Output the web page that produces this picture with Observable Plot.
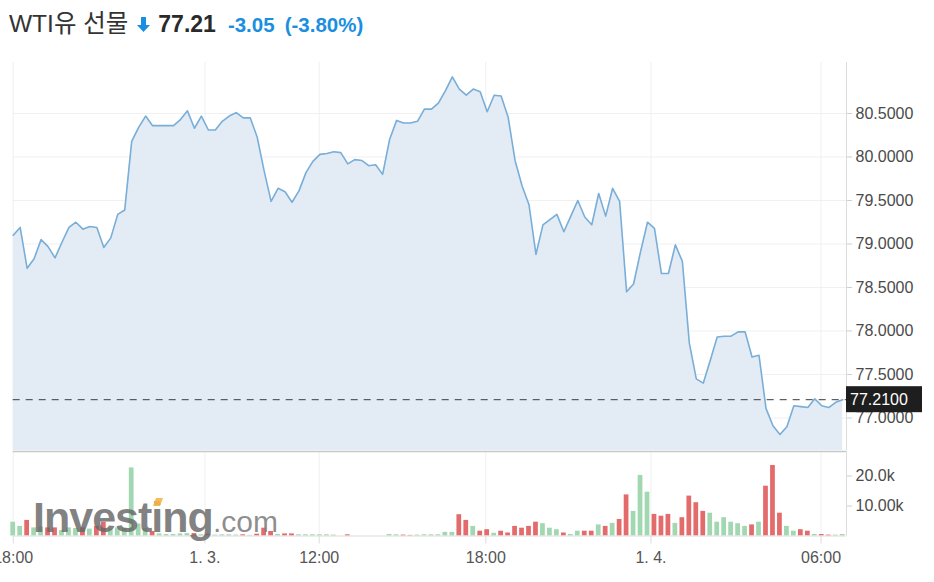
<!DOCTYPE html>
<html><head><meta charset="utf-8">
<script src="https://cdn.jsdelivr.net/npm/d3@7"></script>
<script src="https://cdn.jsdelivr.net/npm/@observablehq/plot@0.6"></script>
<style>
body{margin:0;background:#fff;font-family:"Liberation Sans",Arial,"Noto Sans CJK KR",sans-serif;}
#wrap{position:relative;width:934px;height:582px;overflow:hidden;}
#hdr{height:50px;display:flex;align-items:baseline;padding-left:9px;box-sizing:border-box;padding-top:4px;white-space:nowrap;}
.name{font-size:24.5px;color:#333;}
.arrow{margin:0 8px 0 9px;}
.last{font-size:23px;font-weight:bold;color:#2a2a2a;}
.chg{font-size:20.5px;font-weight:bold;color:#1a8fe0;margin-left:12px;}
.pct{font-size:20.5px;font-weight:bold;color:#1a8fe0;margin-left:10px;}
#price svg,#vol svg{display:block;}
#wm{position:absolute;left:0;top:0;pointer-events:none;}
</style></head>
<body>
<div id="wrap">
  <div id="hdr">
    <span class="name">WTI유 선물</span>
    <svg class="arrow" width="13" height="15" viewBox="0 0 13 15"><path d="M4 0h5v8h4l-6.5 7L0 8h4z" fill="#1a8fe0"/></svg>
    <span class="last">77.21</span>
    <span class="chg">-3.05</span>
    <span class="pct">(-3.80%)</span>
  </div>
  <div id="price"></div>
  <div id="vol"></div>
  <svg id="wm" width="934" height="582">
    <text x="33" y="532" font-family="Liberation Sans, Arial, sans-serif" font-size="43" font-weight="bold" letter-spacing="-1" fill="#666" fill-opacity="0.82">Investing</text>
    <polygon points="153,506 156,498 163,498 160,506" fill="#f6b547" fill-opacity="0.9"/>
    <text x="213" y="532" font-family="Liberation Sans, Arial, sans-serif" font-size="30" fill="#7a7a7a" fill-opacity="0.85">.com</text>
  </svg>
</div>
<script>
// ---- data ----
const price = [
79.10, 79.19, 78.72, 78.83, 79.05, 78.97, 78.84, 79.02, 79.19, 79.25,
79.17, 79.20, 79.19, 78.96, 79.07, 79.34, 79.39, 80.18, 80.34, 80.47,
80.36, 80.36, 80.36, 80.36, 80.43, 80.53, 80.33, 80.47, 80.31, 80.31,
80.41, 80.47, 80.51, 80.45, 80.45, 80.23, 79.84, 79.49, 79.64, 79.60,
79.48, 79.61, 79.82, 79.95, 80.03, 80.04, 80.06, 80.05, 79.92, 79.97,
79.96, 79.90, 79.91, 79.80, 80.20, 80.42, 80.39, 80.39, 80.41, 80.55,
80.55, 80.62, 80.76, 80.92, 80.78, 80.71, 80.78, 80.75, 80.52, 80.71,
80.70, 80.46, 79.96, 79.67, 79.45, 78.88, 79.22, 79.28, 79.34, 79.14,
79.32, 79.50, 79.31, 79.22, 79.58, 79.32, 79.64, 79.49, 78.45, 78.54,
78.91, 79.25, 79.18, 78.66, 78.66, 78.99, 78.80, 77.86, 77.45, 77.40,
77.66, 77.93, 77.94, 77.94, 77.99, 77.99, 77.70, 77.72, 77.11, 76.91,
76.81, 76.90, 77.14, 77.13, 77.12, 77.22, 77.14, 77.12, 77.18, 77.21
];
// volume in thousands
const volume = [
4.6, 3.2, 5.2, 2.7, 3.0, 2.7, 2.7, 1.8, 2.7, 2.5,
2.7, 2.3, 3.2, 4.6, 2.3, 2.7, 2.7, 22.7, 4.0, 2.5,
1.5, 0.7, 0.5, 0.5, 0.7, 0.8, 0.8, 0.4, 0.6, 0.3,
0.4, 0.4, 0.3, 0.4, 0.2, 0.6, 2.6, 1.5, 0.5, 0.7,
0.7, 0.4, 0.4, 0.4, 0.4, 0.4, 0.3, 0, 0.4, 0,
0, 0, 0, 0, 0.5, 0.4, 0.3, 0.2, 0.3, 0.4,
0.4, 0.4, 1.2, 1.2, 7.1, 5.2, 3.2, 1.6, 2.1, 0.9,
1.6, 1.0, 3.2, 2.6, 3.2, 4.6, 4.1, 2.6, 2.1, 1.0,
0.5, 1.6, 1.6, 1.6, 3.7, 3.2, 4.2, 5.5, 13.7, 8.2,
20.2, 14.6, 7.2, 6.6, 7.2, 4.2, 6.1, 13.3, 11.1, 8.2,
7.6, 4.6, 6.1, 4.6, 4.1, 3.2, 3.7, 4.6, 16.6, 23.5,
7.6, 3.2, 1.6, 2.1, 1.6, 0.5, 0.5, 0.3, 0.3, 0.5
];
const volDir = [
"u","u","d","u","u","d","d","u","u","u",
"d","u","d","d","u","u","u","u","u","u",
"d","u","u","u","u","u","d","u","d","u",
"u","u","u","d","u","d","d","d","u","d",
"d","u","u","u","u","u","u","u","d","u",
"u","u","u","u","u","u","d","d","u","u",
"u","u","u","u","d","d","u","d","d","u",
"d","d","d","d","d","d","u","u","u","d",
"u","u","d","d","u","d","u","d","d","u",
"u","u","d","d","d","u","d","d","d","d",
"u","u","u","u","u","u","d","u","d","d",
"d","u","u","d","d","u","d","d","u","u"
];
const xTickPos = [0, 27.5, 43.9, 67.8, 91.5, 115.9];
const xTickLabels = ["18:00", "1. 3.", "12:00", "18:00", "1. 4.", "06:00"];
const yTicks = [77, 77.5, 78, 78.5, 79, 79.5, 80, 80.5];
const volTicks = [10, 20];
const volTickLabels = ["10.00k", "20.0k"];
const lastPrice = 77.21;

// ---- scales / styles ----
const X_DOMAIN = [0, 119.55];
const Y_DOMAIN = [76.626, 81.086];
const V_DOMAIN = [0, 28.167];
const FONT = "Liberation Sans, Arial, sans-serif";
const GREEN = "#a2d8b1", RED = "#e46b6b";
const GRID = "#f0f0f0", AXISC = "#dcdcdc", TXT = "#4a4a4a";

const pts = price.map((v, i) => ({i, v}));
const vols = volume.map((v, i) => ({i, v, dir: volDir[i]}));
const xLab = new Map(xTickPos.map((p, k) => [p, xTickLabels[k]]));
const vLab = new Map(volTicks.map((p, k) => [p, volTickLabels[k]]));

const priceChart = Plot.plot({
  width: 934, height: 400,
  marginLeft: 12.7, marginRight: 88, marginTop: 12, marginBottom: 0,
  style: {fontFamily: FONT, fontSize: "16px", background: "transparent", color: TXT},
  x: {domain: X_DOMAIN, axis: null, label: null},
  y: {domain: Y_DOMAIN, label: null},
  marks: [
    Plot.gridY(yTicks, {stroke: GRID, strokeOpacity: 1}),
    Plot.gridX(xTickPos, {stroke: GRID, strokeOpacity: 1}),
    Plot.areaY(pts, {x: "i", y1: Y_DOMAIN[0], y2: "v", fill: "#e3ecf4"}),
    Plot.lineY(pts, {x: "i", y: "v", stroke: "#79aed8", strokeWidth: 1.6}),
    Plot.ruleX([X_DOMAIN[1]], {stroke: AXISC}),
    Plot.ruleY([lastPrice], {stroke: "#3a3a3a", strokeDasharray: "7,6"}),
    Plot.axisY(yTicks, {anchor: "right", label: null, tickSize: 5, tickPadding: 4,
      tickFormat: d => d.toFixed(4), fontSize: 16, stroke: "#cfcfcf", fill: TXT})
  ]
});

const ys = priceChart.scale("y"), xs = priceChart.scale("x");
const yy = ys.apply(lastPrice), xr = xs.apply(X_DOMAIN[1]);
const ps = d3.select(priceChart);
ps.append("rect").attr("x", xr).attr("y", yy - 13).attr("width", 76).attr("height", 26).attr("fill", "#1e1e1e");
ps.append("text").attr("x", xr + 4).attr("y", yy).attr("dy", "0.36em").attr("text-anchor", "start")
  .attr("fill", "#fff").attr("font-size", 16).attr("font-family", FONT).text(lastPrice.toFixed(4));
document.getElementById("price").append(priceChart);

const volChart = Plot.plot({
  width: 934, height: 132,
  marginLeft: 12.7, marginRight: 88, marginTop: 1, marginBottom: 46.5,
  style: {fontFamily: FONT, fontSize: "16px", background: "transparent", color: TXT},
  x: {domain: X_DOMAIN, label: null},
  y: {domain: V_DOMAIN, label: null},
  marks: [
    Plot.gridX(xTickPos, {stroke: GRID, strokeOpacity: 1}),
    Plot.rectY(vols.filter(d => d.dir === "u"), {x1: d => d.i - 0.34, x2: d => d.i + 0.34, y: "v", fill: GREEN}),
    Plot.rectY(vols.filter(d => d.dir === "d"), {x1: d => d.i - 0.34, x2: d => d.i + 0.34, y: "v", fill: RED}),
    Plot.ruleY([0], {stroke: AXISC, strokeWidth: 1.2}),
    Plot.ruleY([V_DOMAIN[1]], {stroke: "#c8c8c8", strokeWidth: 1.6}),
    Plot.ruleX([X_DOMAIN[1]], {stroke: AXISC}),
    Plot.axisY(volTicks, {anchor: "right", label: null, tickSize: 5, tickPadding: 4,
      tickFormat: d => vLab.get(d), fontSize: 16, stroke: "#cfcfcf", fill: TXT}),
    Plot.axisX(xTickPos, {anchor: "bottom", label: null, tickSize: 8, tickPadding: 8,
      tickFormat: d => xLab.get(d), fontSize: 16, stroke: AXISC, fill: "#555"})
  ]
});
document.getElementById("vol").append(volChart);
</script>
</body></html>
